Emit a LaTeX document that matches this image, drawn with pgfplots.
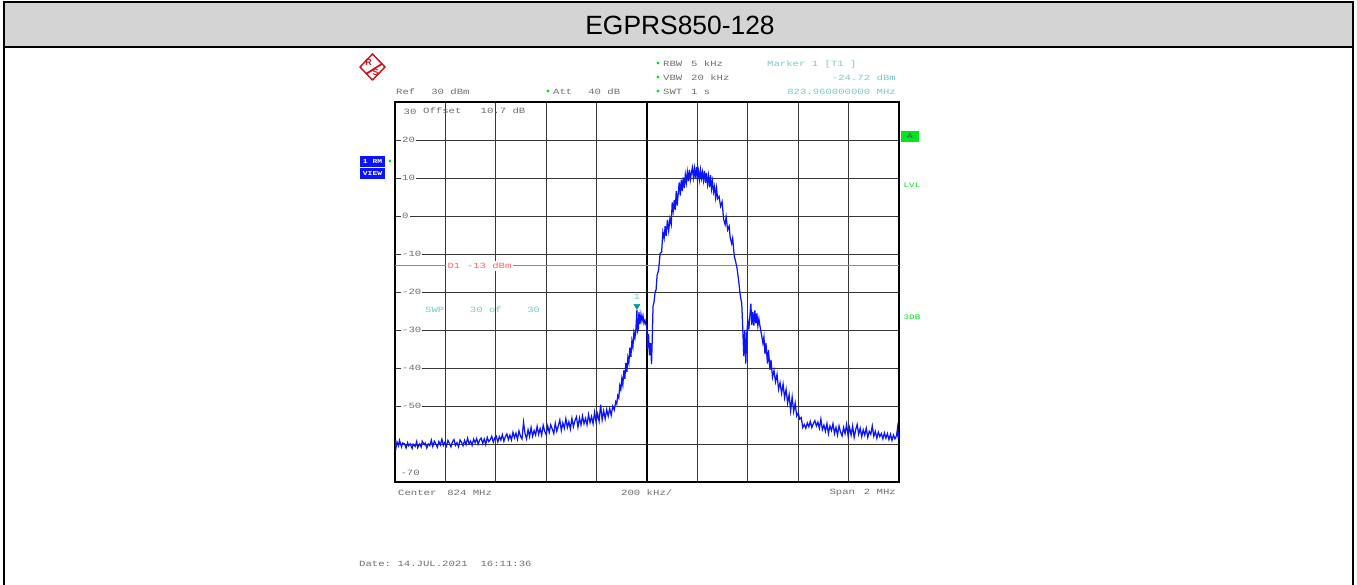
\documentclass[border=0pt]{standalone}
\usepackage{fontspec}
\setmainfont{Liberation Sans}
\newfontfamily\rsfont[FakeStretch=1.33]{Liberation Mono}
\usepackage{pgfplots}
\pgfplotsset{compat=1.18}
\definecolor{rsgray}{HTML}{6E6E6E}
\definecolor{rsteal}{HTML}{7CC8C8}
\definecolor{rsgreen}{HTML}{00E61E}
\definecolor{rsblue}{HTML}{0A14FF}
\definecolor{rsred}{HTML}{C8161C}
\begin{document}
\begin{tikzpicture}[x=1pt,y=-1pt,
  lab/.style={font=\rsfont\fontsize{8}{8}\selectfont,inner sep=0pt,anchor=west,text=rsgray},
  tl/.style={lab,text=rsteal}]
\path[use as bounding box] (0,0) rectangle (1357,585);
% page frame and title band
\fill[black!17] (4,3) rectangle (1353,47);
\draw[black,line width=2pt] (4,585) -- (4,2.5) -- (1353,2.5) -- (1353,585);
\draw[black,line width=2pt] (4,47) -- (1353,47);
\node[font=\fontsize{26.4}{26}\selectfont,inner sep=0pt] at (680,25.5) {EGPRS850-128};

\begin{axis}[
  at={(395pt,-482.2pt)}, anchor=south west,
  scale only axis, width=504pt, height=380pt,
  xmin=823, xmax=825, ymin=-70, ymax=30,
  xtick={823.2,823.4,823.6,823.8,824.2,824.4,824.6,824.8},
  ytick={-60,-50,-40,-30,-20,-10,0,10,20},
  yticklabels={,-50,-40,-30,-20,-10,0,10,20},
  xticklabels={},
  extra x ticks={824},
  extra x tick labels={},
  extra x tick style={major grid style={black,line width=1.8pt}},
  grid=major,
  major grid style={black!78,line width=1.2pt},
  tick style={draw=none},
  axis line style={black,line width=2.4pt},
  y tick label style={font=\rsfont\fontsize{8}{8}\selectfont,text=rsgray,anchor=west,
    fill=white,inner sep=1pt,xshift=6pt},
]
% display line D1
\addplot[draw=red!65!white,line width=1pt,forget plot] coordinates {(823,-13) (825,-13)};
\node[font=\rsfont\fontsize{8}{8}\selectfont,text=red!60!white,fill=white,inner sep=2pt,anchor=west]
  at (axis cs:823.2,-13) {D1 -13 dBm};
% trace 1
\addplot[sharp plot,draw=rsblue,line width=1.25pt,line join=miter,forget plot] coordinates {
(823.000,-58.9)(823.004,-60.9)(823.008,-59.4)(823.014,-60.4)(823.018,-59.0)(823.026,-60.7)(823.030,-59.7)(823.038,-59.9)
(823.044,-61.0)(823.050,-59.6)(823.054,-60.4)(823.060,-59.9)(823.068,-61.1)(823.072,-60.0)(823.080,-60.6)(823.086,-59.3)
(823.090,-60.9)(823.098,-59.9)(823.104,-60.7)(823.108,-59.2)(823.116,-60.1)(823.120,-59.7)(823.126,-61.0)(823.132,-59.9)
(823.138,-60.4)(823.144,-58.9)(823.150,-60.6)(823.156,-59.2)(823.162,-59.9)(823.168,-60.8)(823.174,-59.3)(823.180,-60.2)
(823.186,-58.7)(823.192,-60.3)(823.198,-59.5)(823.204,-60.5)(823.210,-59.0)(823.216,-59.8)(823.222,-60.7)(823.228,-59.4)
(823.234,-58.8)(823.240,-60.3)(823.246,-59.6)(823.252,-60.7)(823.258,-58.9)(823.264,-59.5)(823.270,-60.4)(823.276,-59.0)
(823.282,-60.1)(823.288,-58.4)(823.294,-59.9)(823.300,-59.2)(823.306,-60.3)(823.312,-58.7)(823.318,-59.6)(823.324,-58.5)
(823.330,-60.0)(823.336,-58.9)(823.342,-58.4)(823.348,-59.8)(823.354,-58.6)(823.360,-60.1)(823.366,-58.2)(823.372,-59.3)
(823.378,-58.8)(823.384,-57.9)(823.390,-59.5)(823.396,-58.3)(823.402,-57.9)(823.408,-59.4)(823.414,-58.0)(823.420,-58.9)
(823.426,-57.5)(823.432,-59.2)(823.438,-58.0)(823.444,-57.3)(823.450,-58.8)(823.456,-57.6)(823.462,-58.9)(823.468,-56.9)
(823.474,-58.3)(823.480,-57.1)(823.486,-58.7)(823.492,-56.5)(823.498,-57.9)(823.504,-58.6)(823.510,-54.2)(823.516,-57.2)
(823.522,-58.6)(823.528,-56.2)(823.534,-58.0)(823.540,-55.6)(823.546,-57.9)(823.552,-56.4)(823.558,-57.6)(823.564,-55.3)
(823.570,-57.4)(823.576,-55.9)(823.582,-57.6)(823.588,-55.0)(823.594,-56.6)(823.600,-57.5)(823.606,-55.2)(823.612,-56.9)
(823.618,-54.9)(823.624,-56.0)(823.630,-57.2)(823.636,-54.5)(823.642,-56.6)(823.648,-55.2)(823.654,-53.6)(823.660,-56.4)
(823.666,-54.4)(823.672,-55.8)(823.678,-53.3)(823.684,-55.6)(823.690,-54.1)(823.696,-56.0)(823.702,-53.2)(823.708,-55.4)
(823.714,-53.8)(823.720,-52.8)(823.726,-55.5)(823.732,-53.1)(823.738,-54.9)(823.744,-52.6)(823.750,-54.6)(823.756,-53.2)
(823.762,-54.9)(823.768,-52.2)(823.774,-54.3)(823.780,-52.7)(823.786,-54.6)(823.792,-51.6)(823.798,-54.2)(823.804,-52.0)
(823.810,-53.9)(823.816,-49.6)(823.822,-53.6)(823.828,-51.2)(823.834,-53.3)(823.840,-50.9)(823.846,-52.6)(823.852,-50.6)
(823.858,-52.4)(823.864,-50.0)(823.870,-51.0)(823.876,-48.8)(823.880,-49.4)(823.884,-47.2)(823.888,-47.8)(823.892,-44.6)
(823.896,-45.6)(823.900,-42.8)(823.904,-44.4)(823.908,-40.6)(823.912,-42.8)(823.916,-38.6)(823.920,-41.0)(823.924,-37.2)
(823.928,-38.6)(823.932,-34.6)(823.936,-37.0)(823.940,-32.8)(823.944,-34.4)(823.948,-30.6)(823.952,-32.0)(823.956,-29.6)
(823.960,-24.72)(823.962,-30.4)(823.966,-29.6)(823.968,-25.2)(823.972,-28.4)(823.976,-25.8)(823.980,-27.6)(823.984,-26.2)
(823.988,-28.2)(823.992,-27.4)(823.996,-28.6)(823.999,-28.8)(824.002,-35.0)(824.006,-31.0)(824.010,-36.6)(824.014,-33.4)
(824.018,-38.9)(824.021,-31.8)(824.024,-23.6)(824.028,-22.6)(824.032,-20.0)(824.036,-19.4)(824.040,-15.6)(824.046,-14.2)
(824.052,-9.8)(824.058,-9.4)(824.063,-4.2)(824.068,-5.8)(824.072,-2.6)(824.076,-5.2)(824.081,-1.0)(824.086,-3.8)
(824.091,-0.6)(824.096,-2.2)(824.100,3.6)(824.104,1.4)(824.108,4.2)(824.112,1.6)(824.116,6.6)(824.120,2.8)
(824.124,6.2)(824.128,8.9)(824.132,5.4)(824.136,9.6)(824.140,6.6)(824.144,10.2)(824.148,7.4)(824.152,10.9)
(824.156,8.8)(824.160,11.6)(824.164,9.2)(824.168,12.2)(824.172,9.6)(824.176,11.4)(824.180,12.8)(824.184,10.2)
(824.188,12.6)(824.192,10.0)(824.196,12.9)(824.200,9.8)(824.204,11.9)(824.208,9.6)(824.212,12.2)(824.216,9.9)
(824.220,11.6)(824.224,9.4)(824.228,11.9)(824.232,8.8)(824.236,11.4)(824.240,8.4)(824.244,10.6)(824.248,7.6)
(824.252,10.8)(824.256,7.2)(824.260,9.2)(824.264,6.4)(824.268,7.8)(824.272,5.0)(824.276,7.4)(824.280,4.6)
(824.286,5.2)(824.292,2.6)(824.298,3.8)(824.304,-0.8)(824.310,-2.2)(824.314,-0.2)(824.320,-3.6)(824.326,-2.6)
(824.330,-5.6)(824.336,-7.2)(824.340,-5.8)(824.346,-10.4)(824.352,-12.0)(824.358,-14.0)(824.364,-17.2)(824.370,-20.8)
(824.376,-23.0)(824.380,-29.6)(824.384,-36.8)(824.388,-30.0)(824.392,-38.8)(824.396,-30.8)(824.400,-27.6)(824.404,-29.8)
(824.408,-26.4)(824.412,-23.0)(824.416,-28.6)(824.420,-25.2)(824.424,-28.8)(824.428,-24.8)(824.432,-28.2)(824.436,-25.6)
(824.440,-28.9)(824.444,-27.0)(824.448,-28.8)(824.454,-31.0)(824.460,-33.4)(824.464,-31.8)(824.468,-36.2)(824.472,-33.4)
(824.478,-38.8)(824.482,-35.2)(824.488,-40.4)(824.492,-37.8)(824.498,-42.4)(824.504,-40.6)(824.510,-43.6)(824.516,-41.6)
(824.522,-45.6)(824.528,-43.8)(824.534,-46.6)(824.540,-44.2)(824.546,-47.8)(824.552,-45.6)(824.558,-49.2)(824.564,-47.0)
(824.570,-51.2)(824.576,-47.6)(824.582,-51.4)(824.588,-49.2)(824.594,-52.6)(824.600,-51.8)(824.606,-53.4)(824.612,-53.0)
(824.618,-55.6)(824.624,-54.8)(824.630,-55.8)(824.636,-54.4)(824.642,-55.4)(824.648,-54.0)(824.654,-55.6)(824.660,-54.6)
(824.666,-53.8)(824.672,-55.2)(824.678,-54.2)(824.684,-55.8)(824.690,-53.4)(824.696,-56.2)(824.702,-55.0)(824.708,-56.6)
(824.714,-54.6)(824.720,-57.2)(824.726,-55.2)(824.732,-56.4)(824.738,-54.6)(824.744,-57.2)(824.750,-55.6)(824.756,-57.6)
(824.762,-55.2)(824.768,-56.8)(824.774,-57.8)(824.780,-55.6)(824.786,-57.2)(824.792,-54.8)(824.798,-57.8)(824.804,-55.6)
(824.810,-57.6)(824.816,-55.2)(824.822,-58.2)(824.828,-56.2)(824.834,-54.8)(824.840,-57.4)(824.846,-55.8)(824.852,-58.0)
(824.858,-56.2)(824.864,-57.6)(824.870,-55.8)(824.876,-58.2)(824.882,-56.6)(824.888,-57.4)(824.894,-55.2)(824.900,-57.9)
(824.906,-56.6)(824.912,-58.4)(824.918,-56.8)(824.924,-58.0)(824.930,-57.2)(824.936,-58.6)(824.942,-57.0)(824.948,-58.4)
(824.954,-57.2)(824.960,-58.8)(824.966,-57.4)(824.972,-59.0)(824.978,-57.6)(824.984,-58.6)(824.990,-57.8)(824.994,-55.8)
(824.997,-58.6)(825.000,-57.0)
};
% marker 1
\addplot[only marks,mark=triangle*,mark size=3.4pt,forget plot,
  mark options={rotate=180,yshift=-4pt,draw=teal!80!cyan,fill=teal!80!cyan}]
  coordinates {(823.96,-24.72)};
\node[font=\rsfont\fontsize{8}{8}\selectfont,text=rsteal,inner sep=0pt] at (axis cs:823.96,-24.72) [yshift=13pt] {1};
% scale ends inside the grid
\node[font=\rsfont\fontsize{8}{8}\selectfont,text=rsgray,inner sep=0pt] at (axis cs:823.06,27.4) {30};
\node[font=\rsfont\fontsize{8}{8}\selectfont,text=rsgray,inner sep=0pt] at (axis cs:823.06,-67.6) {-70};
\end{axis}

% instrument settings around the grid
\node[lab] at (396,91.5) {Ref~\kern-3.2pt~~30~dBm};
\node[lab] at (553,91.5) {Att~\kern-3.2pt~~40~dB};
\node[lab] at (663,63.5) {RBW~\kern-4pt~5~kHz};
\node[lab] at (663,77.5) {VBW~\kern-4pt~20~kHz};
\node[lab] at (663,91.5) {SWT~\kern-4pt~1~s};
\foreach \p in {(548,91),(658,63),(658,77),(658,91),(390,161)}
  \fill[rsgreen] \p circle (1.7pt);
\node[tl] at (767,64.5) {Marker~1~[T1~]};
\node[tl,anchor=east] at (896,77.5) {-24.72~dBm};
\node[tl,anchor=east] at (896,91.5) {823.960000000~MHz};
\node[lab] at (423,110.5) {Offset~~~10.7~dB};
\node[tl] at (425,310) {SWP~~~~30~of~~~~30};
\node[lab] at (398,492.5) {Center~\kern-2pt~824~MHz};
\node[lab] at (621,492.5) {200~kHz/};
\node[lab,anchor=east] at (896,492.5) {Span~\kern-4pt~2~MHz};
\node[lab] at (359,563.5) {Date:~14.JUL.2021~~16:11:36};

% side blocks
\fill[rsblue] (360,156) rectangle (385,167);
\fill[rsblue] (360,168.5) rectangle (385,179);
\node[font=\rsfont\bfseries\fontsize{6}{6}\selectfont,text=white,inner sep=0pt] at (372.5,161.5) {1 RM};
\node[font=\rsfont\bfseries\fontsize{6}{6}\selectfont,text=white,inner sep=0pt] at (372.5,174) {VIEW};
\fill[rsgreen] (901,131) rectangle (919,142);
\node[font=\rsfont\fontsize{7}{7}\selectfont,text=black!70,inner sep=0pt] at (910,136.5) {A};
\node[font=\rsfont\fontsize{7}{7}\selectfont,text=rsgreen,inner sep=0pt] at (912,185) {LVL};
\node[font=\rsfont\fontsize{7}{7}\selectfont,text=rsgreen,inner sep=0pt] at (912,317) {3DB};

% R&S logo
\begin{scope}[shift={(372.5,67)}]
  \draw[rsred,line width=1.5pt,line join=round] (-12.5,0) -- (0,-13) -- (12.5,0) -- (0,13) -- cycle;
  \draw[rsred,line width=1.8pt] (-6.5,7) -- (10,-3.5);
  \node[font=\bfseries\fontsize{9}{9}\selectfont,text=rsred,inner sep=0pt] at (-4,-4.5) {R};
  \node[font=\bfseries\fontsize{9}{9}\selectfont,text=rsred,inner sep=0pt] at (3,5.5) {S};
\end{scope}
\end{tikzpicture}
\end{document}
